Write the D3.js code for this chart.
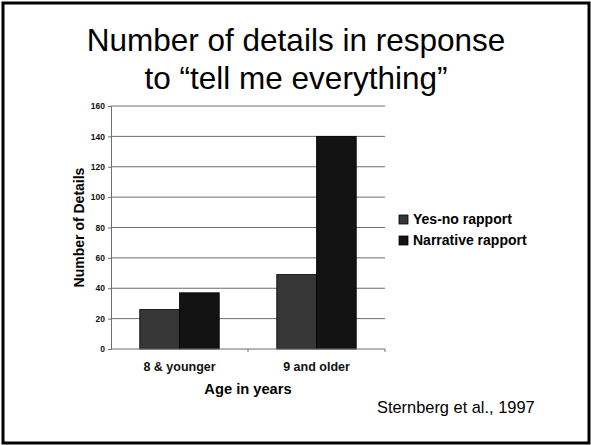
<!DOCTYPE html>
<html>
<head>
<meta charset="utf-8">
<script src="https://cdn.jsdelivr.net/npm/d3@7"></script>
<style>
  body { margin: 0; background: #fff; }
  svg text { font-family: "Liberation Sans", Arial, sans-serif; }
</style>
</head>
<body>
<div id="container"></div>
<script>
// data
var groups = ["8 & younger", "9 and older"];
var seriesNames = ["Yes-no rapport", "Narrative rapport"];
var yesNo = [26, 49];
var narrative = [37, 140];
var yTicks = [0, 20, 40, 60, 80, 100, 120, 140, 160];
var colors = ["#363636", "#131313"];

var W = 591, H = 445;
var margin = { top: 106, right: 206, bottom: 96, left: 111 },
  width = W - margin.left - margin.right,
  height = H - margin.top - margin.bottom;

var svg = d3.select("#container")
  .append("svg")
  .attr("width", W)
  .attr("height", H);

// slide frame
svg.append("rect")
  .attr("x", 3).attr("y", 3)
  .attr("width", W - 5).attr("height", H - 5)
  .attr("fill", "none")
  .attr("stroke", "#000")
  .attr("stroke-width", 3);

// title
svg.append("text")
  .attr("x", 296).attr("y", 51)
  .attr("text-anchor", "middle")
  .attr("font-size", 31.5)
  .text("Number of details in response");
svg.append("text")
  .attr("x", 296).attr("y", 89)
  .attr("text-anchor", "middle")
  .attr("font-size", 31.5)
  .text("to \u201ctell me everything\u201d");

var g = svg.append("g")
  .attr("transform", "translate(" + margin.left + "," + margin.top + ")");

var x0 = d3.scaleBand().domain(groups).range([0, width]).paddingInner(0.42).paddingOuter(0.21);
var x1 = d3.scaleBand().domain(seriesNames).range([0, x0.bandwidth()]);
var y = d3.scaleLinear().domain([0, 160]).range([height, 0]);

// gridlines
g.selectAll(".grid")
  .data(yTicks.slice(1))
  .enter().append("line")
  .attr("x1", 0).attr("x2", width)
  .attr("y1", function (d) { return y(d); })
  .attr("y2", function (d) { return y(d); })
  .attr("stroke", "#6e6e6e")
  .attr("stroke-width", 1);

// bars
var data = groups.map(function (gr, i) {
  return { group: gr, values: [yesNo[i], narrative[i]] };
});
var grp = g.selectAll(".grp")
  .data(data)
  .enter().append("g")
  .attr("transform", function (d) { return "translate(" + x0(d.group) + ",0)"; });
grp.selectAll("rect")
  .data(function (d) { return d.values.map(function (v, k) { return { k: k, v: v }; }); })
  .enter().append("rect")
  .attr("x", function (d) { return x1(seriesNames[d.k]); })
  .attr("y", function (d) { return y(d.v); })
  .attr("width", x1.bandwidth())
  .attr("height", function (d) { return height - y(d.v); })
  .attr("fill", function (d) { return colors[d.k]; })
  .attr("stroke", "#000")
  .attr("stroke-width", 0.8);

// axes
var yAxis = d3.axisLeft(y).tickValues(yTicks).tickSize(3).tickPadding(3);
var yg = g.append("g").attr("class", "y axis").call(yAxis);
yg.select(".domain").attr("stroke", "#6e6e6e");
yg.selectAll(".tick line").attr("stroke", "#6e6e6e");
yg.selectAll("text")
  .attr("font-size", 8.5)
  .attr("font-weight", "bold")
  .attr("fill", "#111");

// x axis: baseline and group dividers
var xg = g.append("g").attr("transform", "translate(0," + height + ")");
xg.append("line")
  .attr("x1", 0).attr("x2", width)
  .attr("stroke", "#6e6e6e");
xg.selectAll(".div")
  .data(groups)
  .enter().append("line")
  .attr("x1", function (d, i) { return (i + 1) * width / groups.length; })
  .attr("x2", function (d, i) { return (i + 1) * width / groups.length; })
  .attr("y1", 0).attr("y2", 3)
  .attr("stroke", "#6e6e6e");
xg.selectAll(".lbl")
  .data(groups)
  .enter().append("text")
  .attr("x", function (d) { return x0(d) + x0.bandwidth() / 2; })
  .attr("y", 22)
  .attr("text-anchor", "middle")
  .attr("font-size", 12.5)
  .attr("font-weight", "bold")
  .attr("fill", "#111")
  .text(function (d) { return d; });

// axis titles
svg.append("text")
  .attr("x", margin.left + width / 2)
  .attr("y", 394)
  .attr("text-anchor", "middle")
  .attr("font-size", 14.7)
  .attr("font-weight", "bold")
  .text("Age in years");
svg.append("text")
  .attr("transform", "translate(83.5," + (margin.top + height / 2) + ") rotate(-90)")
  .attr("text-anchor", "middle")
  .attr("font-size", 14)
  .attr("font-weight", "bold")
  .text("Number of Details");

// legend
var leg = svg.append("g").attr("transform", "translate(399,215)");
var li = leg.selectAll(".li")
  .data(seriesNames)
  .enter().append("g")
  .attr("transform", function (d, i) { return "translate(0," + i * 21 + ")"; });
li.append("rect")
  .attr("width", 9).attr("height", 9)
  .attr("fill", function (d, i) { return colors[i]; })
  .attr("stroke", "#000")
  .attr("stroke-width", 0.8);
li.append("text")
  .attr("x", 14).attr("y", 9)
  .attr("font-size", 14)
  .attr("font-weight", "bold")
  .text(function (d) { return d; });

// citation
svg.append("text")
  .attr("x", 377).attr("y", 413)
  .attr("font-size", 16.4)
  .text("Sternberg et al., 1997");
</script>
</body>
</html>
